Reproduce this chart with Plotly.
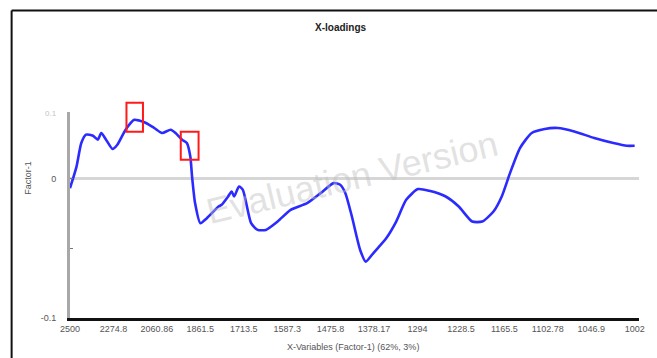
import plotly.graph_objects as go

# X-loadings for Factor-1 along the spectral variables
var_index = [0, 1.5, 2.6, 3.7, 5.3, 6.4, 7.2, 8.3, 9.8, 10.9, 12.8, 14.8, 15.9, 17.5,
             19.4, 21.2, 23.2, 24.3, 25.8, 26.9, 27.7, 28.1, 28.8, 30.0, 31.5, 34.2,
             34.9, 36.4, 37.2, 37.8, 38.9, 39.8, 41.7, 43.2, 45.1, 47.8, 50.8, 54.6,
             57.7, 60.7, 62.2, 63.4, 64.9, 66.8, 68.1, 69.8, 72.8, 75.1, 77.4, 80.1,
             82.7, 86.5, 89.5, 92.6, 94.9, 97.5, 99.4, 101.3, 103.6, 106.3, 109.3,
             112.3, 116.1, 120.7, 125.1, 128.2, 130]
loadings = [-0.0067, 0.0088, 0.0257, 0.0317, 0.0309, 0.0281, 0.0329, 0.0281, 0.0214,
            0.0245, 0.0353, 0.0424, 0.0419, 0.0401, 0.0365, 0.0329, 0.0353, 0.0329,
            0.0281, 0.0257, 0.0160, 0.0017, -0.0175, -0.0319, -0.0283, -0.0199,
            -0.0187, -0.0127, -0.0091, -0.0127, -0.0055, -0.0079, -0.0319, -0.0367,
            -0.0367, -0.0307, -0.0223, -0.0175, -0.0103, -0.0031, -0.0043, -0.0103,
            -0.0271, -0.0511, -0.0595, -0.0535, -0.0427, -0.0307, -0.0151, -0.0074,
            -0.0086, -0.0127, -0.0199, -0.0307, -0.0307, -0.0235, -0.0127, 0.0041,
            0.0221, 0.0329, 0.0358, 0.0365, 0.0340, 0.0293, 0.0257, 0.0237, 0.0237]

# Wavenumber tick labels, one every 10 variables
tick_positions = [0, 10, 20, 30, 40, 50, 60, 70, 80, 90, 100, 110, 120, 130]
tick_labels = ["2500", "2274.8", "2060.86", "1861.5", "1713.5", "1587.3", "1475.8",
               "1378.17", "1294", "1228.5", "1165.5", "1102.78", "1046.9", "1002"]

# Highlighted variable ranges (x from, x to, loading from, loading to)
highlights = [(13.0, 16.8, 0.0547, 0.0338), (25.5, 29.6, 0.0338, 0.0137)]

Y_MIN, Y_MAX = -0.1, 0.048
FONT = "Liberation Sans, Arial, sans-serif"

fig = go.Figure()
fig.add_trace(go.Scatter(
    x=var_index, y=loadings, mode="lines",
    line=dict(color="#2b2bff", width=2.6, shape="spline", smoothing=0.6),
    hoverinfo="skip", showlegend=False,
))


def py(v):
    return (v - Y_MIN) / (Y_MAX - Y_MIN)


shapes = []
for x0, x1, y0, y1 in highlights:
    shapes.append(dict(type="rect", xref="x", yref="paper", x0=x0, x1=x1,
                       y0=py(y0), y1=py(y1), line=dict(color="#ff1a1a", width=2),
                       fillcolor="rgba(0,0,0,0)", layer="above"))

# Outer frame (left and top edges)
shapes.append(dict(type="line", xref="paper", yref="paper", x0=-0.1026, x1=-0.1026,
                   y0=1.4927, y1=-0.3, line=dict(color="#111", width=2)))
shapes.append(dict(type="line", xref="paper", yref="paper", x0=-0.1026, x1=1.1,
                   y0=1.4927, y1=1.4927, line=dict(color="#111", width=2)))

centered = dict(xref="paper", yref="paper", showarrow=False,
                xanchor="center", yanchor="middle")
annotations = [
    dict(text="<b>X-loadings</b>", x=0.477, y=1.4126,
         font=dict(family=FONT, size=10, color="#222"), **centered),
    dict(text="X-Variables (Factor-1) (62%, 3%)", x=0.498, y=-0.141,
         font=dict(family=FONT, size=9, color="#555"), **centered),
    dict(text="Factor-1", x=-0.0739, y=0.68, textangle=-90,
         font=dict(family=FONT, size=9, color="#555"), **centered),
    dict(text="0.1", xref="paper", yref="paper", x=-0.02, y=0.995, xanchor="right",
         yanchor="middle", showarrow=False,
         font=dict(family=FONT, size=8, color="#c4c4c4")),
    dict(text="Evaluation Version", x=0.4948, y=0.68, textangle=-13.5,
         font=dict(family=FONT, size=36, color="rgba(190,190,190,0.45)"), **centered),
]

fig.update_layout(
    width=657, height=358,
    margin=dict(l=70, r=12, t=112, b=40),
    paper_bgcolor="white", plot_bgcolor="white",
    font=dict(family=FONT, size=9, color="#555"),
    shapes=shapes, annotations=annotations,
    xaxis=dict(range=[0, 131], tickvals=tick_positions, ticktext=tick_labels,
               showgrid=False, zeroline=False, showline=True, linecolor="#111",
               linewidth=3, ticks="", tickfont=dict(size=9, color="#555")),
    yaxis=dict(range=[Y_MIN, Y_MAX], tickvals=[-0.1, -0.05, 0], ticktext=["-0.1", "", "0"],
               showgrid=False, zeroline=True, zerolinecolor="#d6d6d6", zerolinewidth=3,
               showline=True, linecolor="#a8a8a8", linewidth=3, ticks="inside",
               ticklen=3, tickcolor="#777", ticklabelstandoff=9,
               tickfont=dict(size=9, color="#555")),
)

fig.write_html("out.html")
